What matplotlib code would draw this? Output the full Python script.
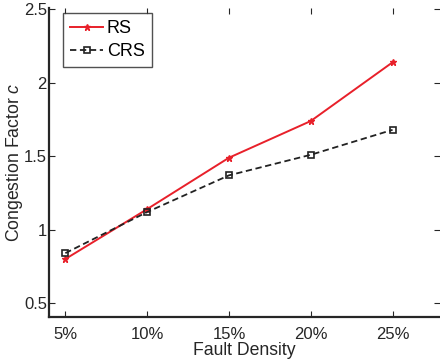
import matplotlib
matplotlib.use("Agg")
import matplotlib.pyplot as plt

plt.rcParams['font.family'] = ['Liberation Sans', 'DejaVu Sans']
plt.rcParams['mathtext.fontset'] = 'custom'
plt.rcParams['mathtext.it'] = 'Liberation Sans:italic'
plt.rcParams['mathtext.rm'] = 'Liberation Sans'

fault_density = [5, 10, 15, 20, 25]
x_tick_labels = ['5%', '10%', '15%', '20%', '25%']
rs_values = [0.80, 1.14, 1.49, 1.74, 2.14]
crs_values = [0.84, 1.12, 1.37, 1.51, 1.68]
y_ticks = [0.5, 1, 1.5, 2, 2.5]
y_tick_labels = ['0.5', '1', '1.5', '2', '2.5']

fig = plt.figure(figsize=(4.4, 3.62), dpi=100)
ax = fig.add_axes([49/440, 1 - 317/362, (440 - 49)/440, (317 - 8)/362])

ax.plot(fault_density, rs_values, color='#e8202a', lw=1.4, marker='*',
        markersize=5, label='RS')
ax.plot(fault_density, crs_values, color='#222222', lw=1.3, ls='--',
        dashes=(3.5, 2), marker='s', markersize=4, markerfacecolor='none',
        markeredgewidth=1.2, label='CRS')

ax.set_xlim(4, 27.9)
ax.set_ylim(0.405, 2.51)
ax.set_xticks(fault_density)
ax.set_xticklabels(x_tick_labels)
ax.set_yticks(y_ticks)
ax.set_yticklabels(y_tick_labels)

for s in ['top', 'right']:
    ax.spines[s].set_visible(False)
for s in ['left', 'bottom']:
    ax.spines[s].set_linewidth(1.6)
    ax.spines[s].set_color('#262626')

ax.tick_params(direction='in', length=4, width=0.8, labelsize=12,
               top=True, right=True, colors='#262626')
ax.tick_params(axis='y', pad=1.5)
ax.tick_params(axis='x', pad=7)

ax.set_xlabel('Fault Density', fontsize=12.7, labelpad=0, color='#262626')
ax.set_ylabel('Congestion Factor $c$', fontsize=12.7, color='#262626')
ax.yaxis.set_label_coords(-0.061, 0.5)

leg = ax.legend(loc='upper left', bbox_to_anchor=(0.035, 0.985), fontsize=13,
                frameon=True, fancybox=False, edgecolor='#262626',
                handlelength=1.85, handletextpad=0.2, borderpad=0.4,
                labelspacing=0.35, borderaxespad=0)
leg.get_frame().set_linewidth(1.0)

fig.savefig('out.png', dpi=100)
